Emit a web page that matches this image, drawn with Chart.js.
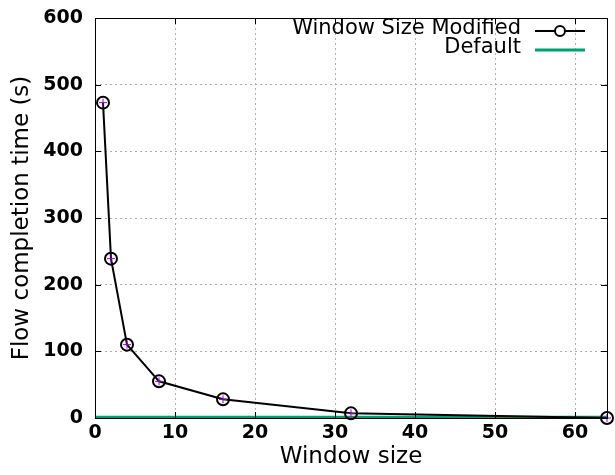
<!DOCTYPE html>
<html>
<head>
<meta charset="utf-8">
<script src="https://cdn.jsdelivr.net/npm/chart.js@4.4.1/dist/chart.umd.min.js"></script>
<style>
  html, body { margin: 0; padding: 0; background: #fff; }
  #wrap { width: 615px; height: 475px; }
</style>
</head>
<body>
<div id="wrap"><canvas id="chart1"></canvas></div>
<script>
// window sizes and flow completion times
const windowSizes = [1, 2, 4, 8, 16, 32, 64];
const modifiedTimes = [473, 239, 110, 55, 28, 7, 0];
const defaultX = [0, 64];
const defaultTimes = [1, 1];
const xTicks = [0, 10, 20, 30, 40, 50, 60];
const yTicks = [0, 100, 200, 300, 400, 500, 600];

const tickFont = { family: "DejaVu Sans", size: 19, weight: "bold" };
const titleFont = { family: "DejaVu Sans", size: 23 };

const modifiedPoints = windowSizes.map((w, i) => ({ x: w, y: modifiedTimes[i] }));
const defaultPoints = defaultX.map((w, i) => ({ x: w, y: defaultTimes[i] }));

// gnuplot style frame with inside ticks + legend top right
const framePlugin = {
  id: "frame",
  afterDraw(chart) {
    const ctx = chart.ctx;
    const a = chart.chartArea;
    const xs = chart.scales.x;
    const ys = chart.scales.y;
    ctx.save();
    ctx.strokeStyle = "#000";
    ctx.lineWidth = 1;
    ctx.strokeRect(a.left + 0.5, a.top + 0.5, a.right - a.left, a.bottom - a.top);
    ctx.beginPath();
    xTicks.forEach((v) => {
      const px = Math.round(xs.getPixelForValue(v)) + 0.5;
      ctx.moveTo(px, a.bottom); ctx.lineTo(px, a.bottom - 6);
      ctx.moveTo(px, a.top); ctx.lineTo(px, a.top + 6);
    });
    yTicks.forEach((v) => {
      const py = Math.round(ys.getPixelForValue(v)) + 0.5;
      ctx.moveTo(a.left, py); ctx.lineTo(a.left + 6, py);
      ctx.moveTo(a.right, py); ctx.lineTo(a.right - 6, py);
    });
    ctx.stroke();

    // legend
    ctx.font = "21px 'DejaVu Sans'";
    ctx.textAlign = "right";
    ctx.textBaseline = "middle";
    ctx.fillStyle = "#000";
    const d0 = chart.data.datasets[0];
    const d1 = chart.data.datasets[1];
    ctx.fillText(d0.label, 521, 29);
    ctx.beginPath();
    ctx.moveTo(535, 31); ctx.lineTo(585, 31);
    ctx.lineWidth = 2;
    ctx.strokeStyle = "#000";
    ctx.stroke();
    ctx.beginPath();
    ctx.arc(560, 31, 5, 0, Math.PI * 2);
    ctx.fillStyle = "#fff";
    ctx.fill();
    ctx.stroke();
    ctx.fillStyle = "#000";
    ctx.fillText(d1.label, 521, 48);
    ctx.beginPath();
    ctx.moveTo(535, 50); ctx.lineTo(585, 50);
    ctx.lineWidth = 3;
    ctx.strokeStyle = d1.borderColor;
    ctx.stroke();
    ctx.restore();
  },
};

new Chart(document.getElementById("chart1"), {
  type: "scatter",
  data: {
    datasets: [
      {
        label: "Window Size Modified",
        data: modifiedPoints,
        showLine: true,
        borderColor: "#000",
        borderWidth: 2,
        pointStyle: "circle",
        pointRadius: 6,
        pointBorderWidth: 2,
        pointBorderColor: "#000",
        pointBackgroundColor: "rgba(0,0,0,0)",
        clip: false,
        order: 1,
      },
      {
        label: "Default",
        data: defaultPoints,
        showLine: true,
        borderColor: "#009e73",
        borderWidth: 3,
        pointRadius: 0,
        order: 2,
      },
      {
        label: "marks",
        data: modifiedPoints,
        showLine: false,
        pointStyle: "cross",
        pointRadius: 4,
        pointBorderWidth: 1,
        pointBorderColor: "#9400d3",
        clip: false,
        order: 0,
      },
    ],
  },
  options: {
    responsive: true,
    maintainAspectRatio: false,
    animation: false,
    layout: { padding: { left: 8, right: 5, top: 18, bottom: 4 } },
    plugins: {
      legend: { display: false },
      tooltip: { enabled: false },
    },
    scales: {
      x: {
        type: "linear",
        min: 0,
        max: 64,
        afterBuildTicks: (s) => { s.ticks = xTicks.map((v) => ({ value: v })); },
        afterFit: (s) => { s.height = 53; s.paddingLeft = 0; s.paddingRight = 0; },
        ticks: { font: tickFont, color: "#000", padding: 4, maxRotation: 0 },
        grid: { drawTicks: false, color: "#b0b0b0", lineWidth: 1 },
        border: { display: false, dash: [2, 3] },
        title: { display: true, text: "Window size", font: titleFont, color: "#000", padding: { top: 2, bottom: 0 } },
      },
      y: {
        min: 0,
        max: 600,
        afterBuildTicks: (s) => { s.ticks = yTicks.map((v) => ({ value: v })); },
        afterFit: (s) => { s.width = 87; s.paddingTop = 0; s.paddingBottom = 0; },
        ticks: { font: tickFont, color: "#000", padding: 12 },
        grid: { drawTicks: false, color: "#b0b0b0", lineWidth: 1 },
        border: { display: false, dash: [2, 3] },
        title: { display: true, text: "Flow completion time (s)", font: titleFont, color: "#000", padding: 0 },
      },
    },
  },
  plugins: [framePlugin],
});
</script>
</body>
</html>
